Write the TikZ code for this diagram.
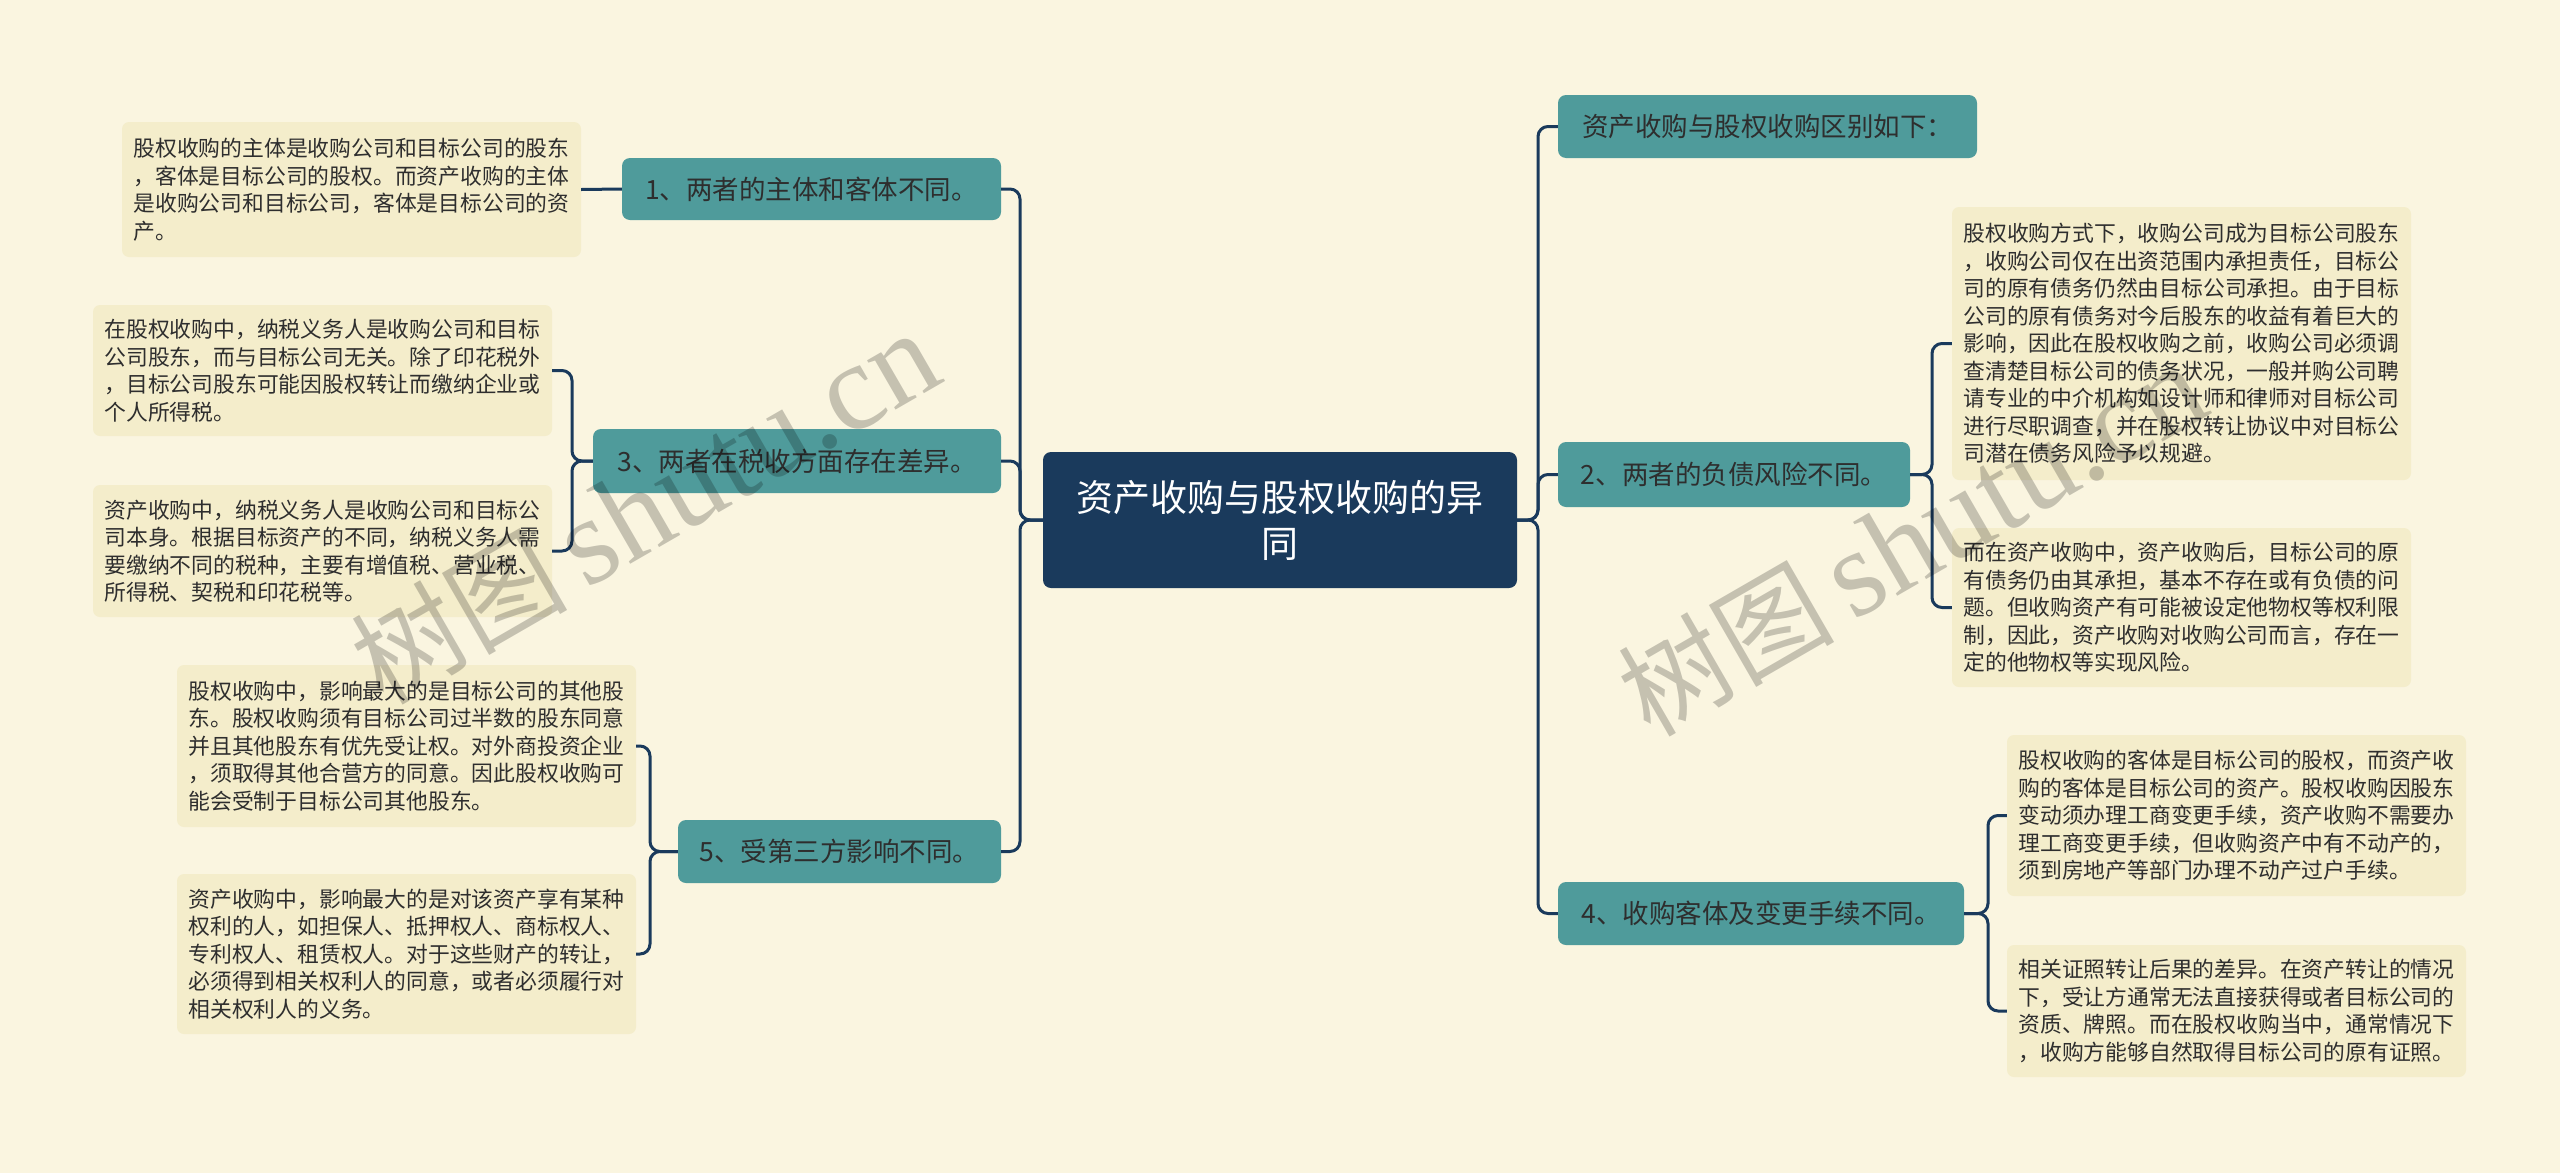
\documentclass[tikz,border=0pt]{standalone}
\usepackage{fontspec}
\newfontfamily\cjk{Noto Sans CJK SC}
\newfontfamily\wmlat{Liberation Serif}
\definecolor{bgc}{HTML}{FAF5E0}
\definecolor{teal1}{HTML}{4F9B9B}
\definecolor{navy}{HTML}{1A3A5C}
\definecolor{leafc}{HTML}{F4EDCB}
\definecolor{txt}{HTML}{2E2E2E}
\tikzset{
  conn/.style={draw=navy, line width=3pt, rounded corners=10pt},
  leaf/.style={fill=leafc, rounded corners=7pt, inner xsep=11pt, inner ysep=0pt,
    align=left, minimum width=459pt, text=txt,
    font=\cjk\fontsize{21.8}{27.5}\selectfont},
  branch/.style={fill=teal1, rounded corners=8pt, inner sep=0pt, align=center,
    text=txt, font=\cjk\fontsize{26.5}{32}\selectfont},
  root/.style={fill=navy, rounded corners=8pt, inner sep=0pt, align=center,
    text=white, font=\cjk\fontsize{37}{46}\selectfont},
  wm/.style={text=black, opacity=0.21, inner sep=0pt}
}
\begin{document}
\begin{tikzpicture}[x=1pt,y=-1pt]
\useasboundingbox (0,0) rectangle (2560,1173);
\fill[bgc] (0,0) rectangle (2560,1173);

% root
\node[root, minimum width=474pt, minimum height=136pt] (C) at (1280,520) {资产收购与股权收购的异\\同};

% branches left
\node[branch, minimum width=379pt, minimum height=62pt] (B1) at (811.5,189) {1、两者的主体和客体不同。};
\node[branch, minimum width=408pt, minimum height=64pt] (B3) at (797,461) {3、两者在税收方面存在差异。};
\node[branch, minimum width=323pt, minimum height=63pt] (B5) at (839.5,851.5) {5、受第三方影响不同。};
% branches right
\node[branch, minimum width=419pt, minimum height=63pt] (B0) at (1767.5,126.5) {资产收购与股权收购区别如下：};
\node[branch, minimum width=352pt, minimum height=65pt] (B2) at (1734,474.5) {2、两者的负债风险不同。};
\node[branch, minimum width=406pt, minimum height=63pt] (B4) at (1761,913.5) {4、收购客体及变更手续不同。};

% leaves
\node[leaf, minimum height=135pt] (L1) at (351.5,189.5) {股权收购的主体是收购公司和目标公司的股东\\，客体是目标公司的股权。而资产收购的主体\\是收购公司和目标公司，客体是目标公司的资\\产。};
\node[leaf, minimum height=131pt] (L3a) at (322.5,370.5) {在股权收购中，纳税义务人是收购公司和目标\\公司股东，而与目标公司无关。除了印花税外\\，目标公司股东可能因股权转让而缴纳企业或\\个人所得税。};
\node[leaf, minimum height=132pt] (L3b) at (322.5,551) {资产收购中，纳税义务人是收购公司和目标公\\司本身。根据目标资产的不同，纳税义务人需\\要缴纳不同的税种，主要有增值税、营业税、\\所得税、契税和印花税等。};
\node[leaf, minimum height=162pt] (L5a) at (406.5,746) {股权收购中，影响最大的是目标公司的其他股\\东。股权收购须有目标公司过半数的股东同意\\并且其他股东有优先受让权。对外商投资企业\\，须取得其他合营方的同意。因此股权收购可\\能会受制于目标公司其他股东。};
\node[leaf, minimum height=160pt] (L5b) at (406.5,954) {资产收购中，影响最大的是对该资产享有某种\\权利的人，如担保人、抵押权人、商标权人、\\专利权人、租赁权人。对于这些财产的转让，\\必须得到相关权利人的同意，或者必须履行对\\相关权利人的义务。};
\node[leaf, minimum height=273pt] (R2a) at (2181.5,343.5) {股权收购方式下，收购公司成为目标公司股东\\，收购公司仅在出资范围内承担责任，目标公\\司的原有债务仍然由目标公司承担。由于目标\\公司的原有债务对今后股东的收益有着巨大的\\影响，因此在股权收购之前，收购公司必须调\\查清楚目标公司的债务状况，一般并购公司聘\\请专业的中介机构如设计师和律师对目标公司\\进行尽职调查，并在股权转让协议中对目标公\\司潜在债务风险予以规避。};
\node[leaf, minimum height=159pt] (R2b) at (2181.5,607.5) {而在资产收购中，资产收购后，目标公司的原\\有债务仍由其承担，基本不存在或有负债的问\\题。但收购资产有可能被设定他物权等权利限\\制，因此，资产收购对收购公司而言，存在一\\定的他物权等实现风险。};
\node[leaf, minimum height=161pt] (R4a) at (2236.5,815.5) {股权收购的客体是目标公司的股权，而资产收\\购的客体是目标公司的资产。股权收购因股东\\变动须办理工商变更手续，资产收购不需要办\\理工商变更手续，但收购资产中有不动产的，\\须到房地产等部门办理不动产过户手续。};
\node[leaf, minimum height=132pt] (R4b) at (2236.5,1011) {相关证照转让后果的差异。在资产转让的情况\\下，受让方通常无法直接获得或者目标公司的\\资质、牌照。而在股权收购当中，通常情况下\\，收购方能够自然取得目标公司的原有证照。};

% trunk coordinates
\coordinate (LT) at (1020,520);
\coordinate (RT) at (1538,520);
\coordinate (T3) at (572,461);
\coordinate (T5) at (650,851.5);
\coordinate (T2) at (1932,474.5);
\coordinate (T4) at (1988,913.5);

% connectors
\draw[conn] (C.west) -- (LT) |- (B1.east);
\draw[conn] (C.west) -- (LT) |- (B3.east);
\draw[conn] (C.west) -- (LT) |- (B5.east);
\draw[conn] (C.east) -- (RT) |- (B0.west);
\draw[conn] (C.east) -- (RT) |- (B2.west);
\draw[conn] (C.east) -- (RT) |- (B4.west);
\draw[conn] (B1.west) -- (L1.east);
\draw[conn] (B3.west) -- (T3) |- (L3a.east);
\draw[conn] (B3.west) -- (T3) |- (L3b.east);
\draw[conn] (B5.west) -- (T5) |- (L5a.east);
\draw[conn] (B5.west) -- (T5) |- (L5b.east);
\draw[conn] (B2.east) -- (T2) |- (R2a.west);
\draw[conn] (B2.east) -- (T2) |- (R2b.west);
\draw[conn] (B4.east) -- (T4) |- (R4a.west);
\draw[conn] (B4.east) -- (T4) |- (R4b.west);

% watermarks
\node[wm, rotate=30] (W1) at (645,508) {\cjk\fontsize{108}{118}\selectfont 树图\hspace{18pt}\wmlat\fontsize{124}{134}\selectfont shutu.cn};
\node[wm, rotate=30] (W2) at (1912,540) {\cjk\fontsize{108}{118}\selectfont 树图\hspace{18pt}\wmlat\fontsize{124}{134}\selectfont shutu.cn};
\end{tikzpicture}
\end{document}
